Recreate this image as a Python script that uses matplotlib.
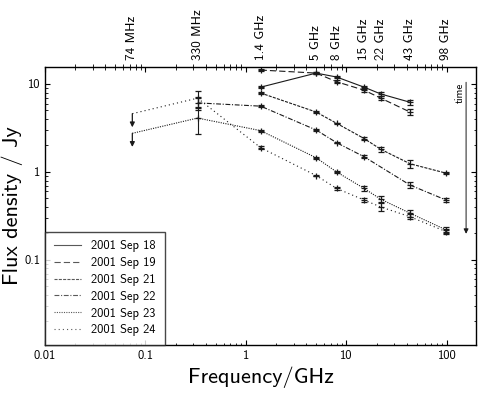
import matplotlib
matplotlib.use('Agg')
import matplotlib.pyplot as plt
from matplotlib.lines import Line2D
from matplotlib.ticker import FixedLocator, FixedFormatter, LogLocator, NullFormatter

plt.rcParams['font.family'] = ['cmss10', 'DejaVu Sans']
plt.rcParams['axes.unicode_minus'] = False
plt.rcParams['lines.scale_dashes'] = False

# observing bands (GHz) and the labels on the top axis
band_freq = [0.074, 0.33, 1.4, 5, 8, 15, 22, 43, 98]
band_labels = ['74 MHz', '330 MHz', '1.4 GHz', '5 GHz', '8 GHz',
               '15 GHz', '22 GHz', '43 GHz', '98 GHz']

# 2001 Sep 18
sep18_f = [1.4, 5, 8, 15, 22, 43]
sep18_s = [9.2, 13.3, 12.0, 9.2, 7.7, 6.2]
sep18_e = [0.3, 0.3, 0.4, 0.4, 0.45, 0.45]
# 2001 Sep 19
sep19_f = [1.4, 5, 8, 15, 22, 43]
sep19_s = [14.4, 13.3, 10.6, 8.5, 6.9, 4.8]
sep19_e = [0.4, 0.3, 0.4, 0.4, 0.4, 0.4]
# 2001 Sep 21
sep21_f = [1.4, 5, 8, 15, 22, 43, 98]
sep21_s = [7.9, 4.8, 3.57, 2.4, 1.81, 1.24, 0.97]
sep21_e = [0.3, 0.1, 0.08, 0.1, 0.13, 0.12, 0.03]
# 2001 Sep 22
sep22_f = [0.33, 1.4, 5, 8, 15, 43, 98]
sep22_s = [6.1, 5.6, 3.0, 2.15, 1.49, 0.71, 0.48]
sep22_e = [1.0, 0.15, 0.05, 0.04, 0.06, 0.05, 0.02]
# 2001 Sep 23
sep23_f = [0.33, 1.4, 5, 8, 15, 22, 43, 98]
sep23_s = [4.1, 2.95, 1.45, 1.0, 0.65, 0.49, 0.34, 0.22]
sep23_e = [1.4, 0.08, 0.03, 0.02, 0.04, 0.04, 0.03, 0.02]
# 2001 Sep 24
sep24_f = [0.33, 1.4, 5, 8, 15, 22, 43, 98]
sep24_s = [6.9, 1.89, 0.91, 0.65, 0.48, 0.40, 0.31, 0.21]
sep24_e = [1.5, 0.06, 0.02, 0.02, 0.03, 0.04, 0.02, 0.015]

# 74 MHz upper limits (Sep 24, Sep 23)
ul_f = [0.074, 0.074]
ul_s = [4.6, 2.75]
ul_style = [(0, (0.8, 2.2)), (0, (0.8, 0.9))]
ul_to = [0.33, 0.33]
ul_to_s = [6.9, 4.1]

series = [
    ('2001 Sep 18', sep18_f, sep18_s, sep18_e, '-'),
    ('2001 Sep 19', sep19_f, sep19_s, sep19_e, (0, (4.5, 2.2))),
    ('2001 Sep 21', sep21_f, sep21_s, sep21_e, (0, (2.2, 0.9))),
    ('2001 Sep 22', sep22_f, sep22_s, sep22_e, (0, (3.5, 1.2, 0.8, 1.2))),
    ('2001 Sep 23', sep23_f, sep23_s, sep23_e, (0, (0.8, 0.9))),
    ('2001 Sep 24', sep24_f, sep24_s, sep24_e, (0, (0.8, 2.2))),
]

col = '0.1'
fig = plt.figure(figsize=(4.8, 3.93), dpi=100)
ax = fig.add_axes([45 / 480, 1 - 345 / 393, 431 / 480, 278 / 393])

handles = []
for name, f, s, e, ls in series:
    ax.plot(f, s, ls=ls, color=col, lw=0.8)
    ax.errorbar(f, s, yerr=e, fmt='+', color=col, ms=4, mew=0.9,
                elinewidth=0.8, capsize=2, capthick=0.8)
    handles.append(Line2D([], [], ls=ls, color='0.35', lw=0.8, label=name))

# upper limits at 74 MHz
for x, y, ls, x2, y2 in zip(ul_f, ul_s, ul_style, ul_to, ul_to_s):
    ax.plot([x, x2], [y, y2], ls=ls, color=col, lw=0.8)
    ax.annotate('', xy=(x, y * 0.7), xytext=(x, y),
                arrowprops=dict(arrowstyle='-|>', color=col, lw=0.9,
                                mutation_scale=7, shrinkA=0, shrinkB=0))

# time arrow
ax.annotate('', xy=(0.977, 0.40), xytext=(0.977, 0.945), xycoords='axes fraction',
            arrowprops=dict(arrowstyle='-|>', color=col, lw=0.7,
                            mutation_scale=7, shrinkA=0, shrinkB=0))
ax.text(0.963, 0.945, 'time', transform=ax.transAxes, rotation=90,
        ha='center', va='top', fontsize=8)

ax.set_xscale('log')
ax.set_yscale('log')
ax.set_xlim(0.01, 195)
ax.set_ylim(0.0108, 15.6)

ax.xaxis.set_major_locator(FixedLocator([0.01, 0.1, 1, 10, 100]))
ax.xaxis.set_major_formatter(FixedFormatter(['0.01', '0.1', '1', '10', '100']))
ax.yaxis.set_major_locator(FixedLocator([0.1, 1, 10]))
ax.yaxis.set_major_formatter(FixedFormatter(['0.1', '1', '10']))
ax.xaxis.set_minor_locator(LogLocator(subs=range(2, 10)))
ax.yaxis.set_minor_locator(LogLocator(subs=range(2, 10)))
ax.xaxis.set_minor_formatter(NullFormatter())
ax.yaxis.set_minor_formatter(NullFormatter())
ax.tick_params(which='both', direction='in', top=True, right=True, labelsize=9)
ax.tick_params(which='major', length=3.5, width=0.8)
ax.tick_params(which='minor', length=1.8, width=0.6)
for sp in ax.spines.values():
    sp.set_linewidth(1.0)

top = ax.secondary_xaxis('top')
top.set_xticks(band_freq, labels=band_labels, rotation=90)
top.tick_params(direction='in', length=0, labelsize=9.5, pad=5)
top.spines['top'].set_visible(False)

ax.set_xlabel('Frequency/GHz', fontsize=16, labelpad=3)
ax.set_ylabel('Flux density / Jy', fontsize=16)
ax.yaxis.set_label_coords(-0.05, 0.5)

leg = ax.legend(handles=handles, loc='lower left', borderaxespad=0,
                fontsize=9, fancybox=False, edgecolor='0.1',
                handlelength=2.2, labelspacing=0.38, borderpad=0.7)
leg.get_frame().set_linewidth(1.0)

fig.savefig('out.png', dpi=100)
